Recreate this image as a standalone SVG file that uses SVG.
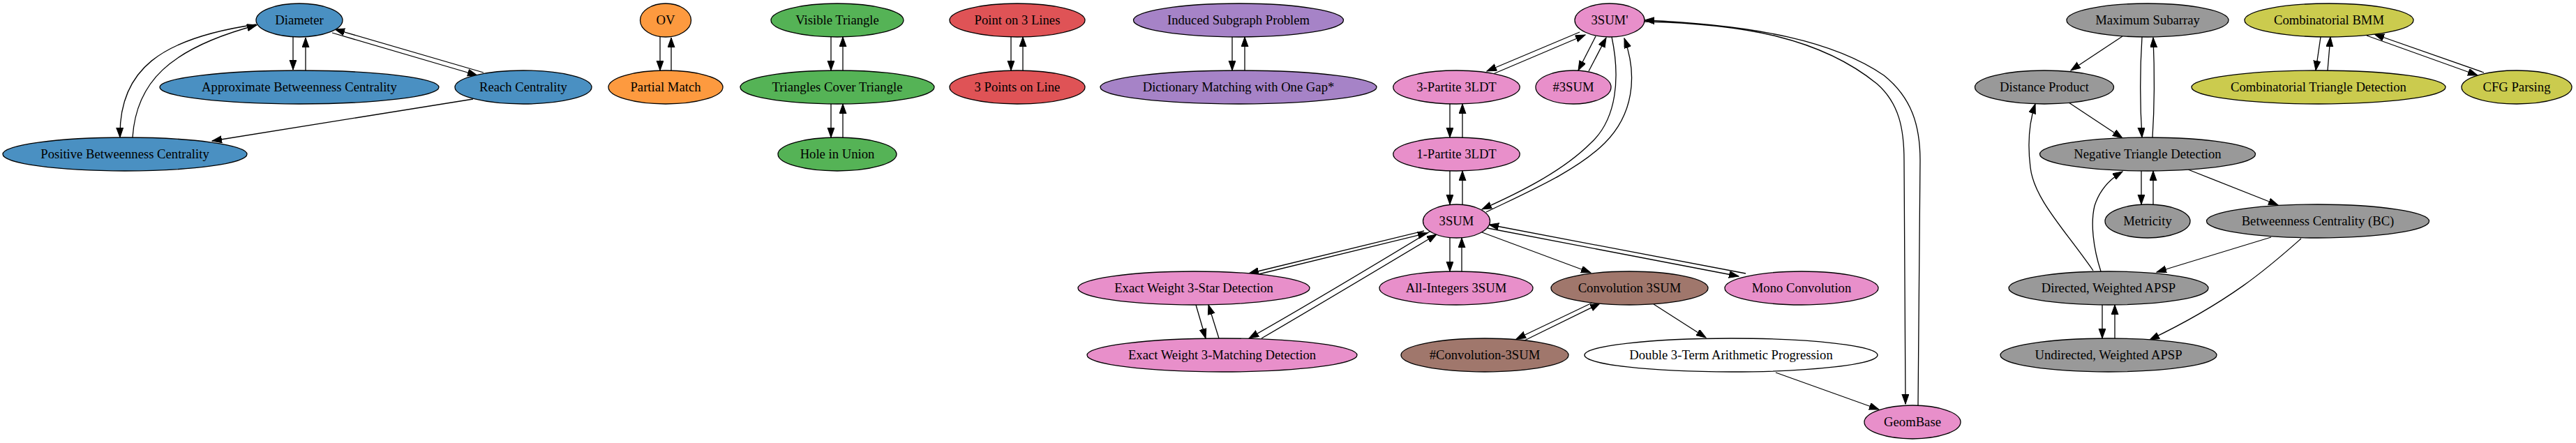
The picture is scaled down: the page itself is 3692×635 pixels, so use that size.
<svg xmlns="http://www.w3.org/2000/svg" width="3692" height="635" viewBox="0 0 3692 635">
<style>
.n ellipse{stroke:#000;stroke-width:1.3}
.n text{font-family:"Liberation Serif","Times New Roman",serif;font-size:18.67px;fill:#000;text-anchor:middle}
.blue ellipse{fill:#4a90c2}
.orange ellipse{fill:#fd9a3f}
.green ellipse{fill:#55b356}
.red ellipse{fill:#df5356}
.purple ellipse{fill:#a683c7}
.pink ellipse{fill:#e88fca}
.brown ellipse{fill:#a0776c}
.gray ellipse{fill:#999999}
.olive ellipse{fill:#cbcb4e}
.white ellipse{fill:#ffffff}
#edges path{fill:none;stroke:#000;stroke-width:1.3;marker-end:url(#ah)}
</style>
<defs>
<marker id="ah" markerUnits="userSpaceOnUse" markerWidth="15" markerHeight="11" refX="14" refY="5" orient="auto">
<path d="M0,0 L14,5 L0,10 z" fill="#000" stroke="#000" stroke-width="1"/>
</marker>
</defs>
<rect width="3692" height="635" fill="#fff"/>
<g id="edges">
<path d="M420,53 L420,100"/>
<path d="M438,101 L438,54"/>
<path d="M476,47 L684,108"/>
<path d="M693,104 L480,42"/>
<path d="M367,35 C230,55 170,100 172,197"/>
<path d="M190,197 C195,120 240,70 368,36"/>
<path d="M678,142 Q520,168 304,202"/>
<path d="M946,53 L946,101"/>
<path d="M962,101 L962,54"/>
<path d="M1191,53 L1191,101"/>
<path d="M1208,101 L1208,53"/>
<path d="M1191,149 L1191,197"/>
<path d="M1208,197 L1208,149"/>
<path d="M1449,53 L1449,101"/>
<path d="M1466,101 L1466,53"/>
<path d="M1766,53 L1766,101"/>
<path d="M1784,101 L1784,53"/>
<path d="M2264,46 L2131,102"/>
<path d="M2140,106 L2272,50"/>
<path d="M2287,52 L2262,101"/>
<path d="M2277,102 L2302,54"/>
<path d="M2078,149 L2078,197"/>
<path d="M2096,197 L2096,149"/>
<path d="M2078,245 L2078,293"/>
<path d="M2096,293 L2096,245"/>
<path d="M2310,53 C2322,110 2318,170 2280,205 C2240,245 2180,275 2124,300"/>
<path d="M2130,304 C2190,275 2260,245 2300,205 C2340,165 2348,110 2328,55"/>
<path d="M2357,31 C2500,34 2610,55 2690,120 C2722,148 2729,185 2729,230 L2731,579"/>
<path d="M2749,581 L2752,230 C2752,180 2740,140 2700,108 C2630,60 2520,36 2357,29"/>
<path d="M2545,534 L2693,587"/>
<path d="M2370,436 L2445,484"/>
<path d="M2132,327 L2492,396"/>
<path d="M2502,392 L2134,322"/>
<path d="M2124,333 L2280,391"/>
<path d="M2078,341 L2078,389"/>
<path d="M2095,389 L2095,341"/>
<path d="M2041,331 L1790,392"/>
<path d="M1804,393 L2046,334"/>
<path d="M1714,437 L1728,485"/>
<path d="M1747,485 L1732,437"/>
<path d="M2049,332 Q1877,436 1790,485"/>
<path d="M1808,485 Q1897,433 2059,336"/>
<path d="M2282,434 L2173,486"/>
<path d="M2185,488 L2293,435"/>
<path d="M3042,52 L2968,101"/>
<path d="M3070,53 C3067,100 3067,150 3070,197"/>
<path d="M3085,197 C3088,150 3088,100 3086,54"/>
<path d="M2965,147 L3042,198"/>
<path d="M3069,245 L3069,293"/>
<path d="M3086,293 L3086,245"/>
<path d="M3136,243 L3265,294"/>
<path d="M3000,388 C2960,330 2915,285 2910,240 C2905,200 2910,170 2917,149"/>
<path d="M3011,389 C3000,355 2996,320 3002,295 C3010,270 3025,256 3042,246"/>
<path d="M3255,340 L3091,390"/>
<path d="M3298,342 C3255,380 3200,430 3081,487"/>
<path d="M3013,437 L3013,485"/>
<path d="M3031,485 L3031,437"/>
<path d="M3326,53 L3319,101"/>
<path d="M3336,101 L3340,53"/>
<path d="M3392,51 L3551,108"/>
<path d="M3560,104 L3403,49"/>
</g>
<g id="diameter" class="n blue"><ellipse cx="429" cy="29" rx="62" ry="24"/><text x="429" y="35">Diameter</text></g>
<g id="approx_bc" class="n blue"><ellipse cx="429" cy="125" rx="200" ry="24"/><text x="429" y="131">Approximate Betweenness Centrality</text></g>
<g id="reach" class="n blue"><ellipse cx="750" cy="125" rx="98" ry="24"/><text x="750" y="131">Reach Centrality</text></g>
<g id="positive_bc" class="n blue"><ellipse cx="179" cy="221" rx="175" ry="24"/><text x="179" y="227">Positive Betweenness Centrality</text></g>
<g id="ov" class="n orange"><ellipse cx="954" cy="29" rx="36.5" ry="24"/><text x="954" y="35">OV</text></g>
<g id="partial_match" class="n orange"><ellipse cx="954" cy="125" rx="82" ry="24"/><text x="954" y="131">Partial Match</text></g>
<g id="visible_triangle" class="n green"><ellipse cx="1200" cy="29" rx="95" ry="24"/><text x="1200" y="35">Visible Triangle</text></g>
<g id="triangles_cover" class="n green"><ellipse cx="1200" cy="125" rx="139" ry="24"/><text x="1200" y="131">Triangles Cover Triangle</text></g>
<g id="hole_union" class="n green"><ellipse cx="1200" cy="221" rx="85" ry="24"/><text x="1200" y="227">Hole in Union</text></g>
<g id="point_3lines" class="n red"><ellipse cx="1458" cy="29" rx="97" ry="24"/><text x="1458" y="35">Point on 3 Lines</text></g>
<g id="points_on_line" class="n red"><ellipse cx="1458" cy="125" rx="97" ry="24"/><text x="1458" y="131">3 Points on Line</text></g>
<g id="induced_subgraph" class="n purple"><ellipse cx="1775" cy="29" rx="150.5" ry="24"/><text x="1775" y="35">Induced Subgraph Problem</text></g>
<g id="dictionary" class="n purple"><ellipse cx="1775" cy="125" rx="198" ry="24"/><text x="1775" y="131">Dictionary Matching with One Gap*</text></g>
<g id="sum3p" class="n pink"><ellipse cx="2307" cy="29" rx="50" ry="24"/><text x="2307" y="35">3SUM'</text></g>
<g id="partite3" class="n pink"><ellipse cx="2087.5" cy="125" rx="90.7" ry="24"/><text x="2087.5" y="131">3-Partite 3LDT</text></g>
<g id="num3sum" class="n pink"><ellipse cx="2255" cy="125" rx="54" ry="24"/><text x="2255" y="131">#3SUM</text></g>
<g id="partite1" class="n pink"><ellipse cx="2087.5" cy="221" rx="90.7" ry="24"/><text x="2087.5" y="227">1-Partite 3LDT</text></g>
<g id="sum3" class="n pink"><ellipse cx="2087.5" cy="317" rx="48" ry="24"/><text x="2087.5" y="323">3SUM</text></g>
<g id="ew_star" class="n pink"><ellipse cx="1711" cy="413" rx="166" ry="24"/><text x="1711" y="419">Exact Weight 3-Star Detection</text></g>
<g id="all_integers" class="n pink"><ellipse cx="2087" cy="413" rx="110" ry="24"/><text x="2087" y="419">All-Integers 3SUM</text></g>
<g id="conv3sum" class="n brown"><ellipse cx="2335.5" cy="413" rx="112.5" ry="24"/><text x="2335.5" y="419">Convolution 3SUM</text></g>
<g id="mono_conv" class="n pink"><ellipse cx="2582" cy="413" rx="110" ry="24"/><text x="2582" y="419">Mono Convolution</text></g>
<g id="ew_matching" class="n pink"><ellipse cx="1751.5" cy="509" rx="193.5" ry="24"/><text x="1751.5" y="515">Exact Weight 3-Matching Detection</text></g>
<g id="num_conv" class="n brown"><ellipse cx="2128" cy="509" rx="120" ry="24"/><text x="2128" y="515">#Convolution-3SUM</text></g>
<g id="double3ap" class="n white"><ellipse cx="2481" cy="509" rx="210" ry="24"/><text x="2481" y="515">Double 3-Term Arithmetic Progression</text></g>
<g id="geombase" class="n pink"><ellipse cx="2741" cy="605" rx="69" ry="24"/><text x="2741" y="611">GeomBase</text></g>
<g id="max_subarray" class="n gray"><ellipse cx="3078" cy="29" rx="116" ry="24"/><text x="3078" y="35">Maximum Subarray</text></g>
<g id="distance_product" class="n gray"><ellipse cx="2930" cy="125" rx="99.5" ry="24"/><text x="2930" y="131">Distance Product</text></g>
<g id="ntd" class="n gray"><ellipse cx="3078" cy="221" rx="154.5" ry="24"/><text x="3078" y="227">Negative Triangle Detection</text></g>
<g id="metricity" class="n gray"><ellipse cx="3078" cy="317" rx="61" ry="24"/><text x="3078" y="323">Metricity</text></g>
<g id="bc" class="n gray"><ellipse cx="3322" cy="317" rx="159.5" ry="24"/><text x="3322" y="323">Betweenness Centrality (BC)</text></g>
<g id="directed_apsp" class="n gray"><ellipse cx="3022" cy="413" rx="143" ry="24"/><text x="3022" y="419">Directed, Weighted APSP</text></g>
<g id="undirected_apsp" class="n gray"><ellipse cx="3022" cy="509" rx="155" ry="24"/><text x="3022" y="515">Undirected, Weighted APSP</text></g>
<g id="comb_bmm" class="n olive"><ellipse cx="3338" cy="29" rx="121" ry="24"/><text x="3338" y="35">Combinatorial BMM</text></g>
<g id="comb_td" class="n olive"><ellipse cx="3323" cy="125" rx="182" ry="24"/><text x="3323" y="131">Combinatorial Triangle Detection</text></g>
<g id="cfg" class="n olive"><ellipse cx="3607" cy="125" rx="79" ry="24"/><text x="3607" y="131">CFG Parsing</text></g>
</svg>
